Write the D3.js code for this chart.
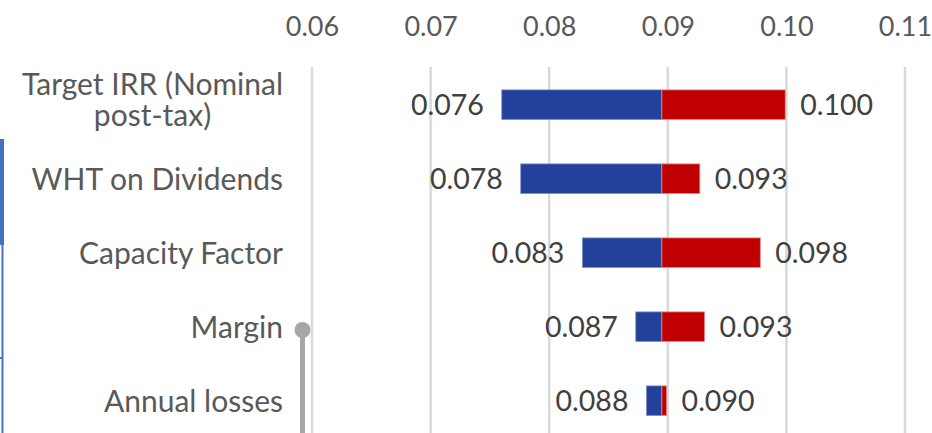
<!DOCTYPE html>
<html>
<head>
<meta charset="utf-8">
<script src="https://cdn.jsdelivr.net/npm/d3@7"></script>
<style>
  html, body { margin: 0; padding: 0; background: #fff; overflow: hidden; }
  text { font-family: Lato, "Open Sans", sans-serif; }
</style>
</head>
<body>
<script>
// tornado chart data
var categories = ["Target IRR (Nominal post-tax)", "WHT on Dividends", "Capacity Factor", "Margin", "Annual losses"];
var categoryLines = [["Target IRR (Nominal", "post-tax)"], ["WHT on Dividends"], ["Capacity Factor"], ["Margin"], ["Annual losses"]];
var lowValues = [0.0760, 0.0776, 0.0828, 0.0873, 0.0882];
var highValues = [0.0999, 0.0927, 0.0978, 0.0931, 0.0899];
var baseValue = 0.0895;
var tickValues = [0.06, 0.07, 0.08, 0.09, 0.10, 0.11];

var width = 932, height = 433;
var svg = d3.select("body").append("svg").attr("width", width).attr("height", height);

var x = d3.scaleLinear().domain([0.06, 0.11]).range([312, 905]);
var y = d3.scaleBand().domain(categories).range([67.7, 437.7]).paddingInner(0.6).paddingOuter(0.3);

// partial axis title cut at top
svg.append("text")
    .attr("x", 646).attr("y", -5)
    .attr("text-anchor", "middle")
    .attr("font-size", 27).attr("fill", "#595959")
    .text("IRR (Nominal)");

// gridlines
svg.append("g").selectAll("line")
    .data(tickValues)
    .enter().append("line")
    .attr("x1", d => x(d)).attr("x2", d => x(d))
    .attr("y1", 67).attr("y2", 440)
    .attr("stroke", "#d9d9d9").attr("stroke-width", 2.5);

// top axis labels
var axis = svg.append("g")
    .attr("transform", "translate(0,26)")
    .call(d3.axisTop(x).tickValues(tickValues).tickSize(0).tickPadding(0).tickFormat(d3.format(".2f")));
axis.select(".domain").remove();
axis.selectAll("text")
    .attr("font-size", 27).attr("fill", "#595959")
    .attr("font-family", "Lato, sans-serif")
    .attr("dy", "0.38em");

var fmt = d3.format(".3f");

// low side bars (blue)
svg.append("g").selectAll("rect")
    .data(categories)
    .enter().append("rect")
    .attr("x", (d, i) => x(lowValues[i]))
    .attr("y", d => y(d))
    .attr("width", (d, i) => x(baseValue) - x(lowValues[i]))
    .attr("height", y.bandwidth())
    .attr("fill", "#23419a")
    .attr("stroke", "#7d8fc8").attr("stroke-width", 0.8);

// high side bars (red)
svg.append("g").selectAll("rect")
    .data(categories)
    .enter().append("rect")
    .attr("x", x(baseValue))
    .attr("y", d => y(d))
    .attr("width", (d, i) => x(highValues[i]) - x(baseValue))
    .attr("height", y.bandwidth())
    .attr("fill", "#c00000")
    .attr("stroke", "#e08a8a").attr("stroke-width", 0.8);

// data labels
svg.append("g").selectAll("text")
    .data(categories)
    .enter().append("text")
    .attr("x", (d, i) => x(lowValues[i]) - 18)
    .attr("y", d => y(d) + y.bandwidth() / 2)
    .attr("dy", "0.36em")
    .attr("text-anchor", "end")
    .attr("font-size", 28.5).attr("fill", "#404040")
    .text((d, i) => fmt(lowValues[i]));

svg.append("g").selectAll("text")
    .data(categories)
    .enter().append("text")
    .attr("x", (d, i) => x(highValues[i]) + 15)
    .attr("y", d => y(d) + y.bandwidth() / 2)
    .attr("dy", "0.36em")
    .attr("text-anchor", "start")
    .attr("font-size", 28.5).attr("fill", "#404040")
    .text((d, i) => fmt(highValues[i]));

// category labels
var catG = svg.append("g").selectAll("text")
    .data(categories)
    .enter().append("text")
    .attr("font-size", 30).attr("fill", "#595959")
    .attr("transform", d => "translate(283," + (y(d) + y.bandwidth() / 2) + ")");

catG.each(function(d, i) {
    var lines = categoryLines[i];
    var t = d3.select(this);
    if (lines.length === 1) {
        t.attr("text-anchor", "end").append("tspan").attr("x", 0).attr("dy", "0.36em").text(lines[0]);
    } else {
        t.attr("text-anchor", "middle");
        var tmp = t.append("tspan").text(lines[0]);
        var w = this.getComputedTextLength();
        tmp.remove();
        lines.forEach(function(l, j) {
            t.append("tspan").attr("x", -w / 2)
                .attr("y", -10 + j * 31)
                .text(l);
        });
    }
});

// selection handle leftovers on the slide
svg.append("rect").attr("x", 0).attr("y", 139).attr("width", 4).attr("height", 106).attr("fill", "#4472c4");
svg.append("rect").attr("x", 1.5).attr("y", 245).attr("width", 2).attr("height", 190).attr("fill", "#4472c4");
svg.append("rect").attr("x", 0).attr("y", 357).attr("width", 3).attr("height", 2).attr("fill", "#4472c4");
svg.append("rect").attr("x", 300).attr("y", 330).attr("width", 5).attr("height", 110).attr("fill", "#a6a6a6");
svg.append("circle").attr("cx", 302.5).attr("cy", 330).attr("r", 8).attr("fill", "#a6a6a6");
</script>
</body>
</html>
